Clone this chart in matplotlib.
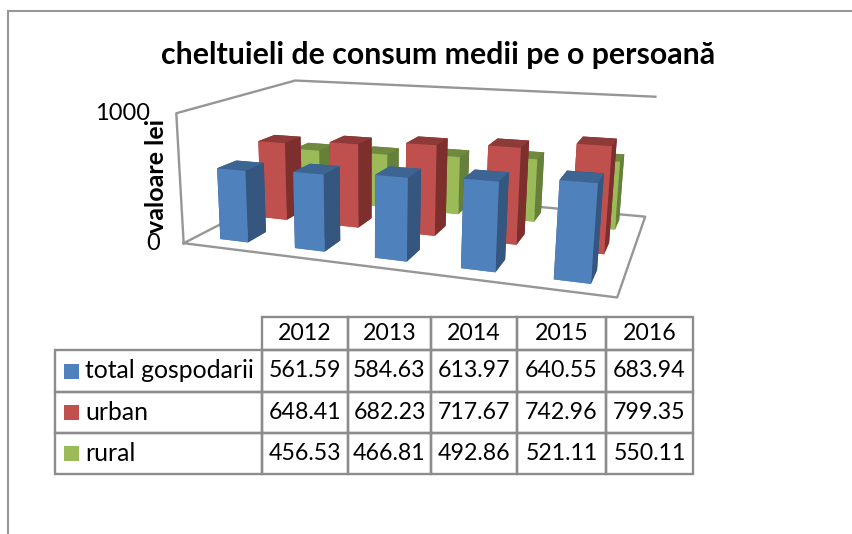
import numpy as np
import matplotlib
matplotlib.use("Agg")
import matplotlib.pyplot as plt
from matplotlib.table import Table
from matplotlib.patches import Rectangle

years = ["2012", "2013", "2014", "2015", "2016"]
series_names = ["total gospodarii", "urban", "rural"]
total_gospodarii = [561.59, 584.63, 613.97, 640.55, 683.94]
urban = [648.41, 682.23, 717.67, 742.96, 799.35]
rural = [456.53, 466.81, 492.86, 521.11, 550.11]
z_max = 1000

front_colors = ["#4F81BD", "#C0504D", "#9BBB59"]
side_colors = ["#34567F", "#7D2F2D", "#66803A"]
top_colors = ["#3C6594", "#8E3A38", "#6F8A3E"]
frame_gray = "#969696"
FONT = "Lato"

W, H = 853, 534
fig = plt.figure(figsize=(W / 100, H / 100), dpi=100, facecolor="white")

# perspective of the chart cube: (category, series, value) -> figure pixel
cube = [((0, 0, 0), (185, 243)), ((5, 0, 0), (617, 298)), ((5, 3, 0), (645.7, 216)),
        ((0, 3, 0), (296, 185)), ((0, 0, z_max), (175, 113)), ((0, 3, z_max), (296.5, 80.5)),
        ((5, 3, z_max), (655, 97))]
A = []
for (X, Y, Z), (u, v) in cube:
    Zs = Z / z_max
    A.append([X, Y, Zs, 1, 0, 0, 0, 0, -u * X, -u * Y, -u * Zs, -u])
    A.append([0, 0, 0, 0, X, Y, Zs, 1, -v * X, -v * Y, -v * Zs, -v])
P = np.linalg.svd(np.array(A, float))[2][-1].reshape(3, 4)
P = P / P[2, 3]
P[:, 2] /= z_max
depth_row = np.array([-0.02, 1.0, -0.0002, 0.0]) * 0.001
M = np.array([P[0], P[1], depth_row, P[2]])

ax = fig.add_axes([0, 0, 1, 1], projection="3d")
ax.set_proj_type("ortho")  # disables the [-1, 1] clipping of projected lines
ax.apply_aspect = lambda position=None: None
ax.get_proj = lambda: M
ax.computed_zorder = False
ax.set_axis_off()
ax.patch.set_alpha(0)

bar_w, bar_d = 0.38, 0.44
x_pos = np.arange(len(years)) + 0.515 - bar_w / 2
all_series = [total_gospodarii, urban, rural]
for j in (2, 1, 0):
    colors = ["#000000"] * 6
    colors[0] = front_colors[j]   # bottom
    colors[1] = top_colors[j]     # top
    colors[2] = front_colors[j]   # front
    colors[3] = side_colors[j]    # back
    colors[4] = side_colors[j]    # left
    colors[5] = side_colors[j]    # right
    for i in range(len(years)):
        ax.bar3d(x_pos[i], j + 0.29, 0, bar_w, bar_d, all_series[j][i],
                 color=colors, shade=False, zsort="average", zorder=10 + (2 - j) * 10 + i)

n_x, n_y = len(years), len(series_names)
xs = [0, n_x, n_x, 0, 0]
ys = [0, 0, n_y, n_y, 0]
ax.plot(xs, ys, [0] * 5, color=frame_gray, lw=1.7, zorder=1)
ax.plot([0, 0, 0, n_x], [0, 0, n_y, n_y], [0, z_max, z_max, z_max], color=frame_gray, lw=1.7, zorder=1)
ax.viewLim.intervalx = (0, W)
ax.viewLim.intervaly = (H, 0)

# overlay in pixel coordinates
ov = fig.add_axes([0, 0, 1, 1], facecolor="none")
ov.set_xlim(0, W)
ov.set_ylim(H, 0)
ov.set_axis_off()
ov.plot([8.5, 8.5, W], [H, 11, 11], color="#969696", lw=1.5, solid_joinstyle="miter")

ov.text(438.5, 55, "cheltuieli de consum medii pe o persoană", ha="center", va="center",
        fontsize=21.8, fontweight="bold", family=FONT, color="black")
ov.text(150, 114, "1000", ha="right", va="center", fontsize=17, family=FONT)
ov.text(160, 244, "0", ha="right", va="center", fontsize=17, family=FONT)
ov.text(157, 176, "valoare lei", ha="center", va="center", rotation=90, fontsize=18,
        fontweight="bold", family=FONT)

# data table
col_edges = [55, 262, 348, 431, 517, 606, 693]
row_edges = [317, 350, 392, 433, 474]
rows = [total_gospodarii, urban, rural]
tb = Table(ov, bbox=[col_edges[0] / W, 1 - row_edges[-1] / H,
                     (col_edges[-1] - col_edges[0]) / W, (row_edges[-1] - row_edges[0]) / H])
tb.auto_set_font_size(False)
for r in range(4):
    h = (row_edges[r + 1] - row_edges[r]) / H
    for c in range(6):
        w = (col_edges[c + 1] - col_edges[c]) / W
        if r == 0:
            txt = years[c - 1] if c else ""
        else:
            txt = series_names[r - 1] if c == 0 else f"{rows[r - 1][c - 1]:.2f}"
        cell = tb.add_cell(r, c, w, h, text=txt, loc="left" if c == 0 else "center",
                           edgecolor="#8C8C8C" if (r or c) else "none", facecolor="none")
        cell.set_linewidth(1.7)
        cell.get_text().set_fontfamily(FONT)
        cell.get_text().set_fontsize(17.8 if c == 0 else 16.7)
        if c == 0:
            cell.PAD = 30.5 / (col_edges[1] - col_edges[0])
tb.set_zorder(3)
ov.add_table(tb)
for k, col in enumerate(front_colors):
    yc = (row_edges[k + 1] + row_edges[k + 2]) / 2
    ov.add_patch(Rectangle((64, yc - 7.5), 15, 15, facecolor=col, edgecolor="none", zorder=4))

fig.savefig("out.png", dpi=100, facecolor="white")
